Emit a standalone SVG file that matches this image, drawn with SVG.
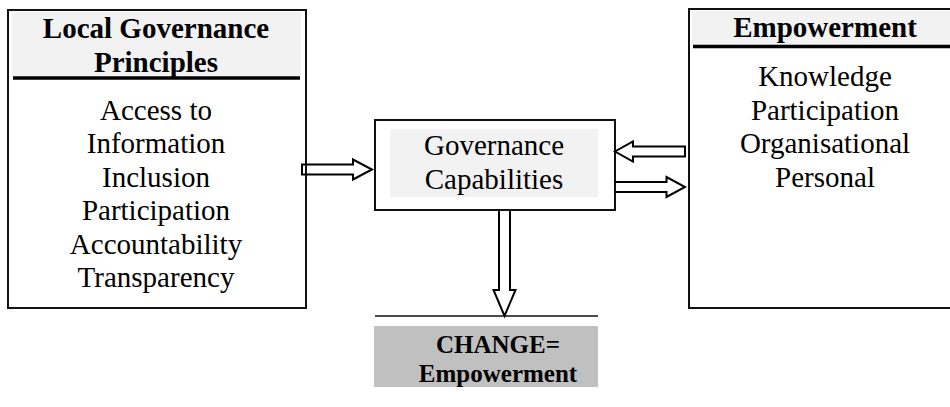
<svg xmlns="http://www.w3.org/2000/svg" width="950" height="407" viewBox="0 0 950 407">
  <defs>
    <style>
      .frame { fill: #ffffff; stroke: #111111; stroke-width: 2; }
      .band { fill: #f2f2f2; }
      .rule { stroke: #000000; stroke-width: 3.5; }
      .head { font-family: "Liberation Serif", "Times New Roman", serif; font-weight: bold; font-size: 29px; text-anchor: middle; fill: #000000; }
      .body { font-family: "Liberation Serif", "Times New Roman", serif; font-size: 29px; text-anchor: middle; fill: #000000; }
      .result { font-family: "Liberation Serif", "Times New Roman", serif; font-weight: bold; font-size: 25px; text-anchor: middle; fill: #000000; }
      .arrow { fill: none; stroke: #000000; stroke-width: 2; stroke-linejoin: miter; }
    </style>
  </defs>
  <rect width="950" height="407" fill="#ffffff"/>

  <!-- Local governance principles -->
  <g id="principles">
    <rect class="frame" x="8" y="10" width="298" height="298"/>
    <rect class="band" x="12" y="12" width="289" height="64"/>
    <line class="rule" x1="13" y1="78" x2="300" y2="78"/>
    <text class="head" x="156" y="38">Local Governance</text>
    <text class="head" x="156" y="71.5">Principles</text>
    <text class="body" x="156" y="119.5">Access to</text>
    <text class="body" x="156" y="153">Information</text>
    <text class="body" x="156" y="186.5">Inclusion</text>
    <text class="body" x="156" y="220">Participation</text>
    <text class="body" x="156" y="253.5">Accountability</text>
    <text class="body" x="156" y="287">Transparency</text>
  </g>

  <!-- Empowerment dimensions -->
  <g id="empowerment">
    <rect class="frame" x="689" y="9" width="272" height="299"/>
    <rect class="band" x="692" y="11" width="258" height="34"/>
    <line class="rule" x1="693" y1="46.5" x2="950" y2="46.5"/>
    <text class="head" x="825" y="37">Empowerment</text>
    <text class="body" x="825" y="86">Knowledge</text>
    <text class="body" x="825" y="119.5">Participation</text>
    <text class="body" x="825" y="153">Organisational</text>
    <text class="body" x="825" y="186.5">Personal</text>
  </g>

  <!-- Governance capabilities -->
  <g id="capabilities">
    <rect class="frame" x="375" y="120" width="240" height="90"/>
    <rect class="band" x="390" y="129" width="208" height="68"/>
    <text class="body" x="494" y="155">Governance</text>
    <text class="body" x="494" y="188.5">Capabilities</text>
  </g>

  <!-- Outcome -->
  <g id="change">
    <line x1="375" y1="316" x2="598" y2="316" stroke="#111111" stroke-width="1.5"/>
    <rect x="374" y="326" width="224" height="61" fill="#c0c0c0"/>
    <text class="result" x="498" y="353">CHANGE=</text>
    <text class="result" x="498" y="382">Empowerment</text>
  </g>

  <!-- Block arrows -->
  <g id="connectors">
    <path class="arrow" d="M302,164.5 H353 V159.5 L372,169.5 L353,179.5 V174.5 H302 Z"/>
    <path class="arrow" d="M685,146.5 H633 V141.5 L615,151.5 L633,161.5 V156.5 H685 Z"/>
    <path class="arrow" d="M615,182 H666.5 V177 L685,187 L666.5,197 V192 H615"/>
    <path class="arrow" d="M499,210 V290 H493.5 L504.5,316 L515.5,290 H510 V210"/>
  </g>
</svg>
